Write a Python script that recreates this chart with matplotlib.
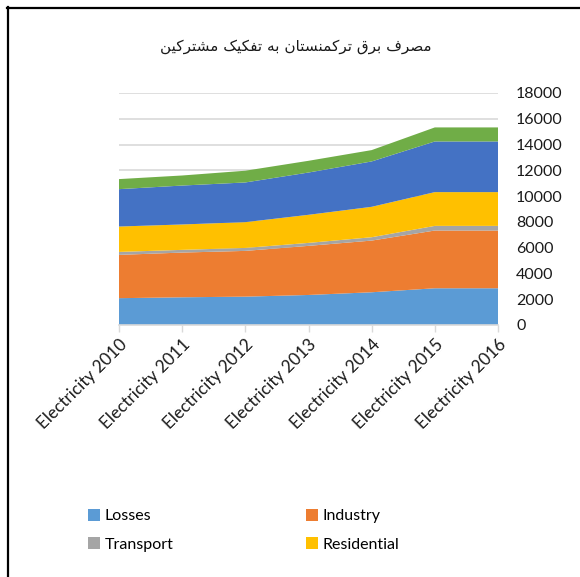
import matplotlib.pyplot as plt
from matplotlib.patches import Patch
from matplotlib.lines import Line2D

plt.rcParams['font.family'] = ['Lato', 'DejaVu Sans']

years = ["Electricity 2010", "Electricity 2011", "Electricity 2012", "Electricity 2013",
         "Electricity 2014", "Electricity 2015", "Electricity 2016"]

# consumption by sector (GWh), stacked bottom to top
losses = [2080, 2150, 2200, 2330, 2540, 2850, 2850]
industry = [3360, 3470, 3550, 3810, 4010, 4480, 4480]
transport = [230, 210, 230, 230, 260, 360, 360]
residential = [1970, 1970, 2000, 2180, 2360, 2620, 2620]
commercial = [2900, 3020, 3080, 3280, 3520, 3930, 3930]
agriculture = [780, 780, 910, 910, 880, 1090, 1090]

names = ["Losses", "Industry", "Transport", "Residential",
         "Commercial and public services", "Agriculture/forestry"]
colors = ["#5B9BD5", "#ED7D31", "#A5A5A5", "#FFC000", "#4472C4", "#70AD47"]

# title in Persian, written with presentation forms (matplotlib does no shaping)
words = [
    "\uFEE3\uFEBC\uFEAE\uFED1",                                  # مصرف
    "\uFE91\uFEAE\uFED5",                                        # برق
    "\uFE97\uFEAE\uFB90\uFEE4\uFEE8\uFEB4\uFE98\uFE8E\uFEE5",    # ترکمنستان
    "\uFE91\uFEEA",                                              # به
    "\uFE97\uFED4\uFB91\uFBFF\uFB8F",                            # تفکیک
    "\uFEE3\uFEB8\uFE98\uFEAE\uFB90\uFBFF\uFEE6",                # مشترکین
]
title = " ".join(words)[::-1]

fig = plt.figure(figsize=(5.8, 5.77), dpi=100)
ax = fig.add_axes([119 / 580, 1 - 325 / 577, (498 - 119) / 580, (325 - 93) / 577])

x = list(range(len(years)))
ax.stackplot(x, losses, industry, transport, residential, commercial, agriculture,
             colors=colors, linewidth=0, zorder=2)

ax.set_xlim(0, len(years) - 1)
ax.set_ylim(0, 18000)
ax.set_yticks(range(0, 18001, 2000))
ax.yaxis.tick_right()
ax.tick_params(axis='y', length=0, pad=13, labelsize=11.5, labelcolor='#1a1a1a')
ax.set_xticks(x)
ax.set_xticklabels(years, rotation=45, ha='right', rotation_mode='anchor')
ax.tick_params(axis='x', length=5, width=1, color='#D9D9D9', labelsize=12.3,
               labelcolor='#1a1a1a', pad=3)
ax.grid(axis='y', color='#D9D9D9', linewidth=1.2, zorder=0)
ax.set_axisbelow(True)
for side in ['left', 'right', 'top']:
    ax.spines[side].set_visible(False)
ax.spines['bottom'].set_color('#D9D9D9')
ax.spines['bottom'].set_linewidth(1.2)

fig.text(296 / 580, 1 - 47 / 577, title, family='DejaVu Sans', fontsize=11,
         ha='center', va='center', color='#1a1a1a')

order = [0, 2, 1, 3]
handles = [Patch(facecolor=colors[i], edgecolor='none') for i in order]
fig.legend(handles, [names[i] for i in order], ncol=2, loc='upper left',
           bbox_to_anchor=(88 / 580, 1 - 509 / 577), frameon=False,
           fontsize=11.5, handlelength=0.75, handleheight=0.75,
           handletextpad=0.3, columnspacing=8.3, labelspacing=0.86,
           borderpad=0, borderaxespad=0)

# frame around the chart area
fig.add_artist(Line2D([8 / 580, 8 / 580], [0, 1 - 7 / 577], color='black',
                      linewidth=1.6, transform=fig.transFigure))
fig.add_artist(Line2D([7 / 580, 1], [1 - 8 / 577, 1 - 8 / 577], color='black',
                      linewidth=1.6, transform=fig.transFigure))

fig.savefig("out.png", dpi=100)
